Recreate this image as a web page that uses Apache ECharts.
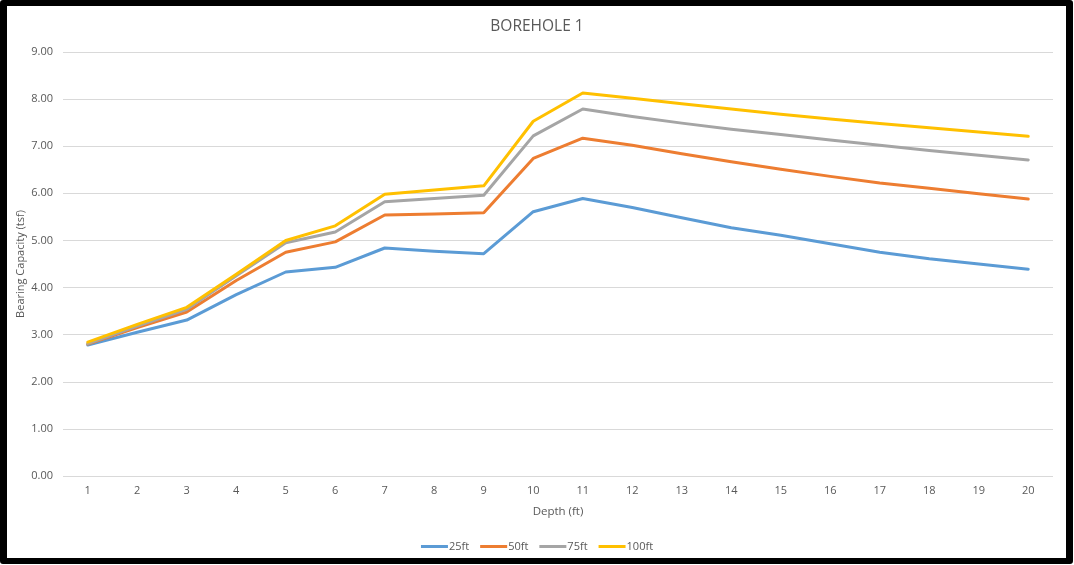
<!DOCTYPE html>
<html>
<head>
<meta charset="utf-8">
<title>BOREHOLE 1</title>
<script src="https://cdn.jsdelivr.net/npm/echarts@6/dist/echarts.min.js"></script>
<style>
  html, body { margin: 0; padding: 0; background: #ffffff; }
  #chart { position: absolute; left: 0; top: 0; width: 1074px; height: 565px; }
  #frame {
    position: absolute; left: 0; top: 0; width: 1073px; height: 564px;
    box-sizing: border-box; border: 7px solid #000; border-top-width: 6px; border-bottom-width: 6px;
    border-radius: 3px; pointer-events: none;
  }
</style>
</head>
<body>
<div id="chart"></div>
<div id="frame"></div>
<script>
// Depth categories (ft)
const depths = ['1','2','3','4','5','6','7','8','9','10','11','12','13','14','15','16','17','18','19','20'];

// Bearing capacity (tsf) for each footing width
const cap25 = [2.78, 3.05, 3.31, 3.85, 4.33, 4.43, 4.84, 4.77, 4.72, 5.61, 5.89, 5.70, 5.48, 5.27, 5.11, 4.93, 4.75, 4.61, 4.50, 4.39];
const cap50 = [2.80, 3.15, 3.48, 4.15, 4.75, 4.97, 5.54, 5.56, 5.59, 6.74, 7.17, 7.02, 6.84, 6.67, 6.51, 6.36, 6.22, 6.11, 5.99, 5.88];
const cap75 = [2.81, 3.18, 3.54, 4.25, 4.95, 5.18, 5.82, 5.89, 5.96, 7.22, 7.79, 7.63, 7.49, 7.36, 7.25, 7.13, 7.02, 6.91, 6.81, 6.71];
const cap100 = [2.84, 3.22, 3.58, 4.28, 5.00, 5.31, 5.98, 6.07, 6.16, 7.53, 8.13, 8.02, 7.90, 7.79, 7.68, 7.58, 7.48, 7.39, 7.30, 7.21];

const seriesNames = ['25ft', '50ft', '75ft', '100ft'];
const seriesData = [cap25, cap50, cap75, cap100];
const colors = ['#5B9BD5', '#ED7D31', '#A5A5A5', '#FFC000'];

const FONT = '"Open Sans", "Liberation Sans", sans-serif';
const TEXT = '#595959';

const chart = echarts.init(document.getElementById('chart'), null, { renderer: 'canvas' });

chart.setOption({
  animation: false,
  backgroundColor: '#ffffff',
  color: colors,
  title: {
    text: 'BOREHOLE 1',
    left: 'center',
    top: 19,
    padding: 0,
    textStyle: { fontFamily: FONT, fontSize: 15.5, fontWeight: 'normal', color: TEXT }
  },
  legend: {
    bottom: 8,
    left: 'center',
    icon: 'rect',
    itemWidth: 27,
    itemHeight: 3,
    itemGap: 11,
    data: seriesNames,
    textStyle: { fontFamily: FONT, fontSize: 11, color: TEXT, padding: [0, 0, 0, -4] }
  },
  grid: { left: 63, right: 21, top: 52, bottom: 89 },
  xAxis: {
    type: 'category',
    data: depths,
    boundaryGap: true,
    name: 'Depth (ft)',
    nameLocation: 'middle',
    nameGap: 30,
    nameMoveOverlap: false,
    nameTextStyle: { fontFamily: FONT, fontSize: 11.5, color: TEXT },
    axisLine: { show: false },
    axisTick: { show: false },
    axisLabel: { fontFamily: FONT, fontSize: 11, color: TEXT, margin: 9 }
  },
  yAxis: {
    type: 'value',
    min: 0,
    max: 9,
    interval: 1,
    name: 'Bearing Capacity (tsf)',
    nameLocation: 'middle',
    nameGap: 37,
    nameMoveOverlap: false,
    nameTextStyle: { fontFamily: FONT, fontSize: 11, color: TEXT },
    axisLine: { show: false },
    axisTick: { show: false },
    axisLabel: {
      fontFamily: FONT, fontSize: 11, color: TEXT, margin: 10,
      formatter: v => v.toFixed(2)
    },
    splitLine: { lineStyle: { color: '#D9D9D9', width: 1 } }
  },
  series: seriesNames.map((name, i) => ({
    name,
    type: 'line',
    data: seriesData[i],
    symbol: 'none',
    smooth: false,
    lineStyle: { width: 3, color: colors[i], cap: 'round', join: 'round' },
    itemStyle: { color: colors[i] }
  }))
});
</script>
</body>
</html>
